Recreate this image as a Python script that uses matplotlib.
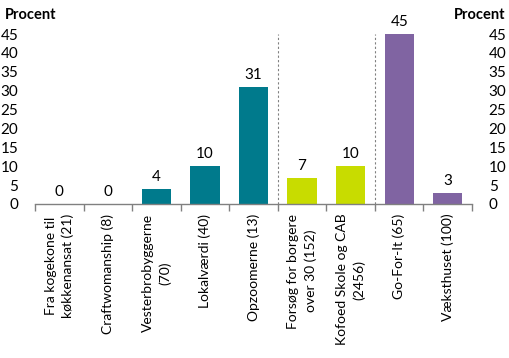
import matplotlib
matplotlib.use('Agg')
import matplotlib.pyplot as plt
import numpy as np

plt.rcParams['font.family'] = ['Lato', 'DejaVu Sans']

categories = ["Fra kogekone til\nkøkkenansat (21)", "Craftwomanship (8)", "Vesterbrobyggerne\n(70)",
              "Lokalværdi (40)", "Opzoomerne (13)", "Forsøg for borgere\nover 30 (152)",
              "Kofoed Skole og CAB\n(2456)", "Go-For-It (65)", "Væksthuset (100)"]
values = [0, 0, 4, 10, 31, 7, 10, 45, 3]
colors = ["#007A8C"] * 5 + ["#C8DC00"] * 2 + ["#8064A2"] * 2
yticks = [0, 5, 10, 15, 20, 25, 30, 35, 40, 45]

fig = plt.figure(figsize=(5.09, 3.58), dpi=100)
ax = fig.add_axes([35/509, 1-204/358, (472-35)/509, 170/358])

x = np.arange(len(categories))
ax.bar(x, values, width=0.6, color=colors, zorder=2)
for xi, v in zip(x, values):
    ax.text(xi, v + 1.3, str(v), ha='center', va='bottom', fontsize=11)

for b in [4.5, 6.5]:
    ax.axvline(b, color='#808080', ls=(0, (2, 2)), lw=0.8, zorder=1)

ax.set_xlim(-0.5, len(categories) - 0.5)
ax.set_ylim(0, 45)
ax.set_yticks(yticks)
ax.tick_params(axis='y', length=0, labelsize=11, pad=12)
ax.set_xticks(x)
ax.set_xticklabels(categories, rotation=90, ha='center', va='top', multialignment='center',
                   fontsize=10, linespacing=1.45)
ax.set_xticks(np.arange(-0.5, len(categories)), minor=True)
ax.tick_params(axis='x', which='major', length=0, pad=7)
ax.tick_params(axis='x', which='minor', length=5, color='#808080', width=1)
for s in ['top', 'left', 'right']:
    ax.spines[s].set_visible(False)
ax.spines['bottom'].set_color('#808080')
ax.spines['bottom'].set_linewidth(1)

ax2 = ax.twinx()
ax2.set_ylim(0, 45)
ax2.set_yticks(yticks)
ax2.tick_params(axis='y', length=0, labelsize=11, pad=12)
for s in ['top', 'left', 'right', 'bottom']:
    ax2.spines[s].set_visible(False)

fig.text(5/509, 1-15/358, "Procent", fontsize=10.5, fontweight='bold', va='center', ha='left')
fig.text(505/509, 1-15/358, "Procent", fontsize=10.5, fontweight='bold', va='center', ha='right')

fig.savefig('out.png', dpi=100)
